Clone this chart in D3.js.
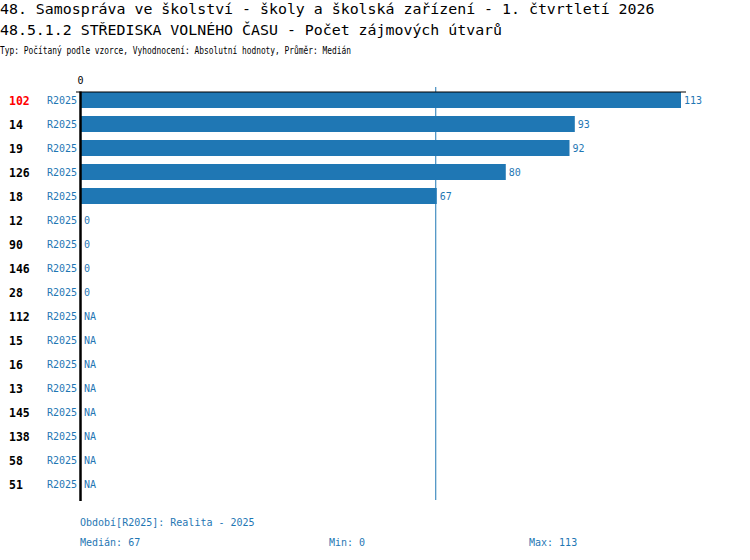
<!DOCTYPE html>
<html><head><meta charset="utf-8">
<script src="https://cdn.jsdelivr.net/npm/d3@7"></script>
<style>
body{margin:0;background:#fff;}
text{font-family:"DejaVu Sans Mono",monospace;}
</style></head>
<body><svg id="c" width="750" height="560"></svg>
<script>
const categories = ["102","14","19","126","18","12","90","146","28","112","15","16","13","145","138","58","51"];
const highlighted = ["102"];
const seriesName = "R2025";
const values = [113,93,92,80,67,0,0,0,0,null,null,null,null,null,null,null,null];
const xTicks = [0];
const medianValue = 67, minValue = 0, maxValue = 113;
const titles = ["48. Samospráva ve školství - školy a školská zařízení - 1. čtvrtletí 2026",
                "48.5.1.2 STŘEDISKA VOLNÉHO ČASU - Počet zájmových útvarů"];
const subtitle = "Typ: Počítaný podle vzorce, Vyhodnocení: Absolutní hodnoty, Průměr: Medián";
const footerPeriod = "Období[R2025]: Realita - 2025";

const blue = "#1f77b4";
const svg = d3.select("#c");
const x = d3.scaleLinear().domain([0, 113]).range([81, 681]);
const y = d3.scaleBand().domain(categories).range([88, 496]).paddingInner(1/3).paddingOuter(1/6);

svg.append("text").attr("x",0).attr("y",14).attr("font-size",14.9).text(titles[0]);
svg.append("text").attr("x",0).attr("y",35).attr("font-size",14.9).text(titles[1]);
svg.append("text").attr("x",0).attr("y",54).attr("font-size",10.5)
  .attr("textLength",351).attr("lengthAdjust","spacingAndGlyphs").text(subtitle);

// median line
svg.append("line").attr("x1",x(medianValue)-1).attr("x2",x(medianValue)-1)
  .attr("y1",87).attr("y2",500).attr("stroke",blue).attr("stroke-width",1);

const data = categories.map((c,i)=>({c, v: values[i]}));

svg.selectAll("rect.bar").data(data.filter(d=>d.v!==null && d.v>0)).join("rect")
  .attr("class","bar").attr("x",x(0)).attr("y",d=>y(d.c))
  .attr("width",d=>x(d.v)-x(0)).attr("height",y.bandwidth()).attr("fill",blue);

// value labels
svg.selectAll("text.val").data(data).join("text").attr("class","val")
  .attr("x",d=>(d.v? x(d.v) : x(0))+3).attr("y",d=>y(d.c)+y.bandwidth()/2+4)
  .attr("font-size",10).attr("fill",blue).text(d=>d.v===null?"NA":d.v);

// series labels
svg.selectAll("text.ser").data(data).join("text").attr("class","ser")
  .attr("x",77).attr("y",d=>y(d.c)+y.bandwidth()/2+4).attr("text-anchor","end")
  .attr("font-size",10).attr("fill",blue).text(seriesName);

// category labels
svg.selectAll("text.cat").data(data).join("text").attr("class","cat")
  .attr("x",9).attr("y",d=>y(d.c)+y.bandwidth()/2+4.5)
  .attr("font-size",11.5).attr("font-weight","bold")
  .attr("fill",d=>highlighted.includes(d.c)?"#ff0000":"#000").text(d=>d.c);

// top axis
const ax = svg.append("g").attr("transform","translate(0,92)")
  .call(d3.axisTop(x).tickValues(xTicks).tickSize(0).tickSizeOuter(0).tickPadding(8));
ax.select(".domain").remove();
ax.selectAll(".tick text").attr("font-family","DejaVu Sans Mono").attr("font-size",10).attr("fill","#000").attr("x",-1);
svg.append("line").attr("x1",x(0)-5).attr("x2",x.range()[1]+5).attr("y1",92).attr("y2",92)
  .attr("stroke","#000").attr("stroke-width",1);
svg.append("line").attr("x1",x(0)-0.5).attr("x2",x(0)-0.5).attr("y1",91.5).attr("y2",501)
  .attr("stroke","#000").attr("stroke-width",2.5);

svg.append("text").attr("x",80).attr("y",526).attr("font-size",10).attr("fill",blue).text(footerPeriod);
svg.append("text").attr("x",80).attr("y",546).attr("font-size",10).attr("fill",blue).text("Medián: "+medianValue);
svg.append("text").attr("x",329).attr("y",546).attr("font-size",10).attr("fill",blue).text("Min: "+minValue);
svg.append("text").attr("x",529).attr("y",546).attr("font-size",10).attr("fill",blue).text("Max: "+maxValue);
</script></body></html>
